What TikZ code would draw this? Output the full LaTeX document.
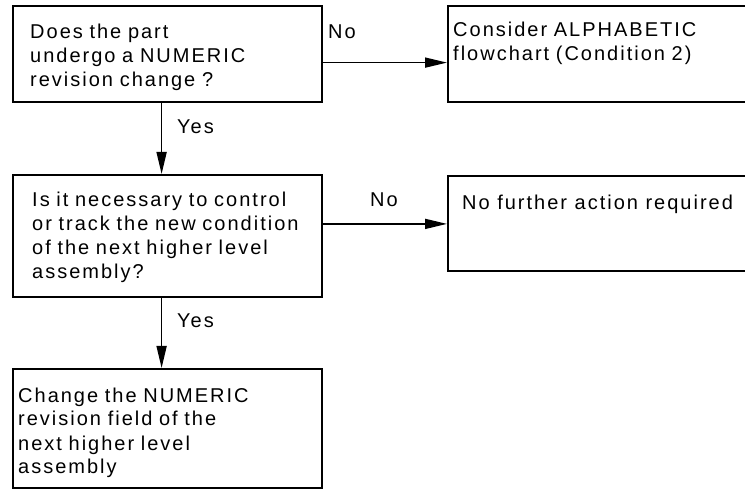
\documentclass[tikz,border=0pt]{standalone}
\usepackage{fontspec}
\setmainfont{Liberation Sans}[LetterSpace=10]
\usetikzlibrary{arrows.meta}
\begin{document}
\begin{tikzpicture}[x=1pt,y=-1pt,
  box/.style={draw, line width=1.8pt, rectangle, inner sep=0pt, anchor=north west},
  txt/.style={anchor=base west, inner sep=0pt, text width=300pt, align=left,
              font=\fontsize{20}{24}\selectfont},
  lbl/.style={anchor=base west, inner sep=0pt, font=\fontsize{20}{24}\selectfont},
  link/.style={line width=1.6pt, -{Triangle[length=22pt,width=10pt]}},
]
\useasboundingbox (0,0) rectangle (745,489);
\clip (0,0) rectangle (745,489);

% decision and action boxes
\node[box, minimum width=309pt, minimum height=96pt]  (q1) at (12,5)   {};
\node[box, minimum width=303pt, minimum height=96pt]  (r1) at (447,5)  {};
\node[box, minimum width=309pt, minimum height=122pt] (q2) at (12,174) {};
\node[box, minimum width=303pt, minimum height=95pt]  (r2) at (447,175) {};
\node[box, minimum width=309pt, minimum height=119pt] (a1) at (12,368) {};

% box texts
\node[txt] (q1t) at (30,39)  {Does the part\\undergo a NUMERIC\\revision change ?};
\node[txt] (r1t) at (453,37) {Consider ALPHABETIC\\flowchart (Condition 2)};
\node[txt] (q2t) at (32,207) {Is it necessary to control\\or track the new condition\\of the next higher level\\assembly?};
\node[lbl] (r2t) at (462,210) {No further action required};
\node[txt] (a1t) at (18,402) {Change the NUMERIC\\revision field of the\\next higher level\\assembly};

% connectors
\draw[link] ([yshift=-8.7pt]q1.east) -- ([yshift=-8.7pt]r1.west);
\draw[link] ([xshift=-5.8pt]q1.south) -- ([xshift=-5.8pt]q2.north);
\draw[link] ([yshift=12pt]q2.east) -- ([yshift=-0.5pt]r2.west);
\draw[link] ([xshift=-5.8pt]q2.south) -- ([xshift=-5.8pt]a1.north);

% connector labels
\node[lbl] (no1)  at (328,39)  {No};
\node[lbl] (yes1) at (177,134) {Yes};
\node[lbl] (no2)  at (370,207) {No};
\node[lbl] (yes2) at (177,328) {Yes};
\end{tikzpicture}
\end{document}
